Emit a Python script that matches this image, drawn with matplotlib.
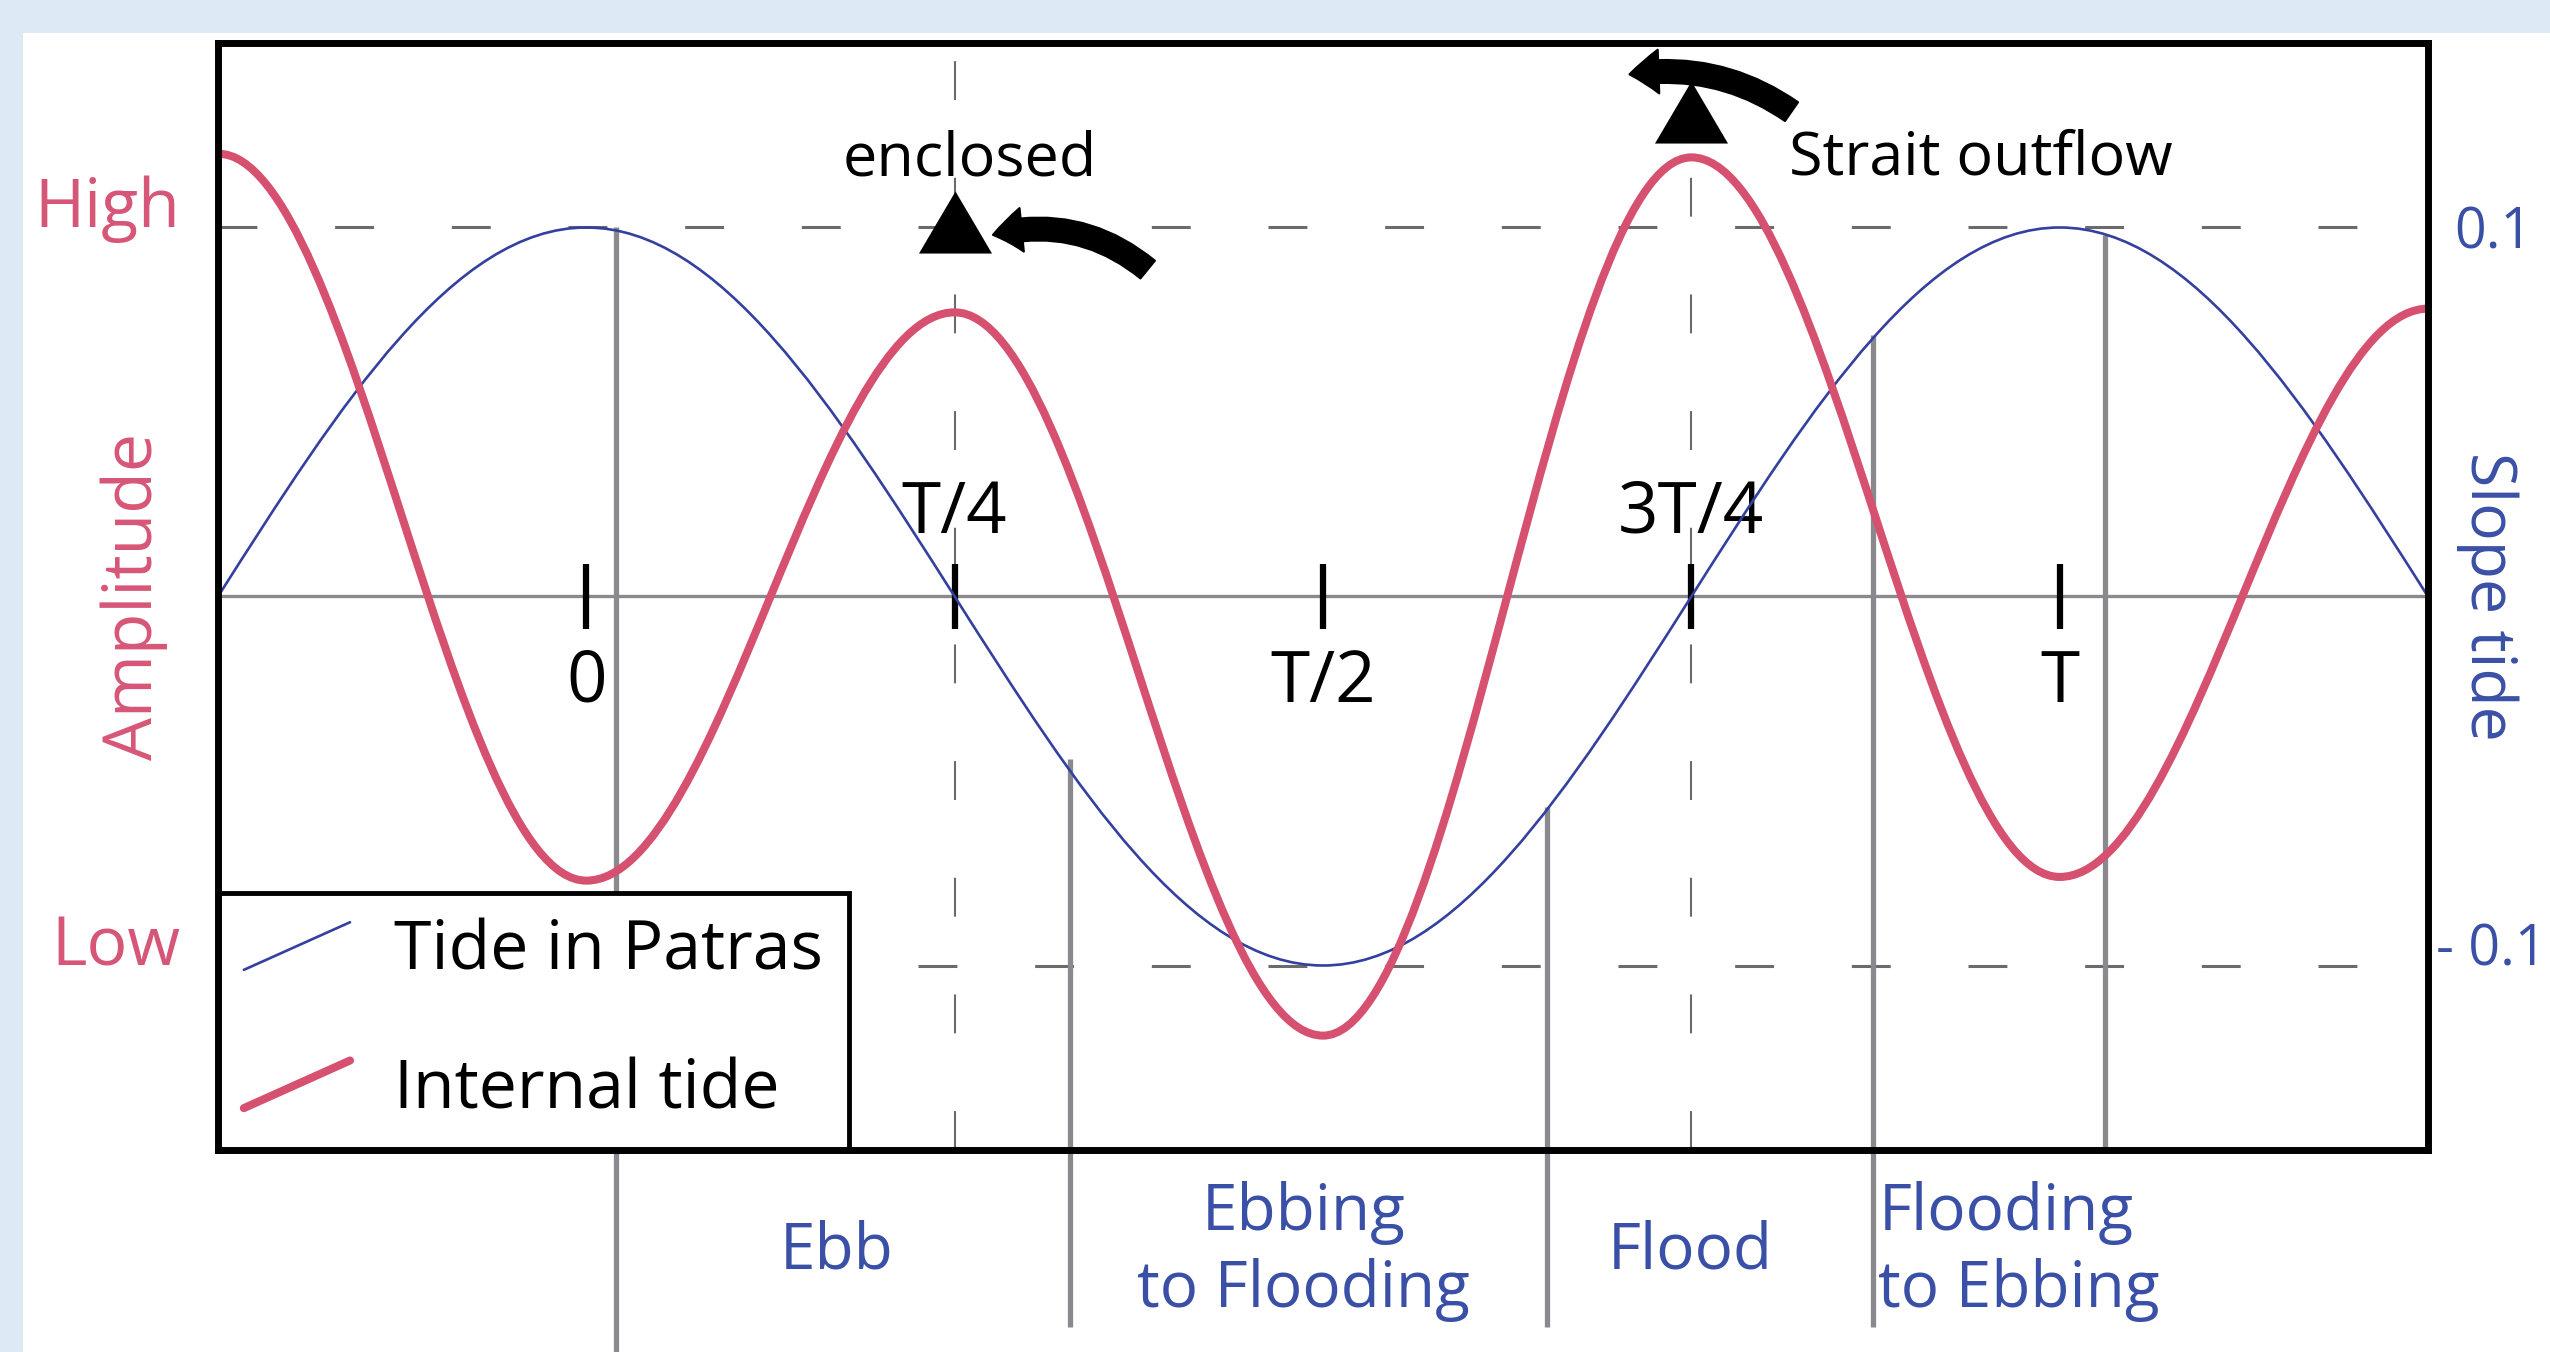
import matplotlib
matplotlib.use('Agg')
import matplotlib.pyplot as plt
import matplotlib.transforms as mtransforms
from matplotlib.path import Path
from matplotlib.patches import PathPatch, FancyArrowPatch, Rectangle, ArrowStyle
from matplotlib.lines import Line2D
from matplotlib.legend_handler import HandlerLine2D

plt.rcParams['font.family'] = ['Open Sans', 'DejaVu Sans']
plt.rcParams['lines.scale_dashes'] = False

# time in tidal periods T
# tide in Patras: slope tide units, zero crossings and extrema
tide_t = [-0.25, 0.0, 0.25, 0.5, 0.75, 1.0, 1.25]
tide_slope = [0.0, 0.1, 0.0, -0.1, 0.0, 0.1, 0.0]
# internal tide: amplitude units (High = 1, Low = -1), peaks and troughs
internal_t = [-0.25, 0.0, 0.25, 0.5, 0.75, 1.0, 1.25]
internal_amp = [1.20, -0.77, 0.77, -1.19, 1.19, -0.76, 0.78]

tick_t = [0.0, 0.25, 0.5, 0.75, 1.0]
tick_labels = ['0', 'T/4', 'T/2', '3T/4', 'T']
tick_above = [False, True, False, True, False]

slope_levels = [-0.1, 0.1]
slope_labels = ['- 0.1', '0.1']
quarter_t = [0.25, 0.75]

# phase boundaries (start on the tide curve)
phase_t = [0.02, 0.328, 0.652, 0.873, 1.031]
phase_top = [0.1, -0.044, -0.057, 0.071, 0.098]
phase_names = ['Ebb', 'Ebbing\nto Flooding', 'Flood', 'Flooding\nto Ebbing']
phase_label_t = [0.170, 0.487, 0.749, 0.877]

event_t = [0.25, 0.75]
event_y = [0.1016, 0.1312]
event_names = ['enclosed', 'Strait outflow']

red = '#d6506f'
pink = '#d65677'
blue_line = '#3340a0'
blue_text = '#3a50a6'
gray = '#8a8a8e'
dash_gray = '#6b6b6b'
bg = '#dde9f5'


def wave_path(ts, ys):
    # cubic pieces: half waves between extrema, quarter waves next to zero crossings
    verts = [(ts[0], ys[0])]
    for t0, y0, t1, y1 in zip(ts[:-1], ys[:-1], ts[1:], ys[1:]):
        dt = t1 - t0
        if y0 == 0:
            c1 = (t0 + 0.3343 * dt, y0 + 0.5251 * (y1 - y0))
            c2 = (t0 + 0.6401 * dt, y1)
        elif y1 == 0:
            c1 = (t1 - 0.6401 * dt, y0)
            c2 = (t1 - 0.3343 * dt, y1 + 0.5251 * (y0 - y1))
        else:
            c1 = (t0 + 0.3634 * dt, y0)
            c2 = (t1 - 0.3634 * dt, y1)
        verts += [c1, c2, (t1, y1)]
    codes = [Path.MOVETO] + [Path.CURVE4] * (len(verts) - 1)
    return Path(verts, codes)


class DiagonalLine(HandlerLine2D):
    def create_artists(self, legend, orig_handle, xdescent, ydescent,
                       width, height, fontsize, trans):
        line = Line2D([-xdescent, -xdescent + width], [-ydescent, -ydescent + height])
        self.update_prop(line, orig_handle, legend)
        line.set_transform(trans)
        return [line]


fig = plt.figure(figsize=(25.5, 13.52), dpi=100, facecolor=bg)
fig.add_artist(Rectangle((23 / 2550, 0), 1, 1 - 33 / 1352, transform=fig.transFigure,
                         facecolor='white', edgecolor='none', zorder=-10))

ax = fig.add_axes([218 / 2550, 202 / 1352, 2210 / 2550, 1107 / 1352])
ax2 = ax.twinx()
ax.set_zorder(ax2.get_zorder() + 1)
ax.patch.set_visible(False)

# slope tide axis: guides, phases, tide curve
ax2.axhline(0, color=gray, lw=2.4, zorder=1)
for lev in slope_levels:
    ax2.axhline(lev, color=dash_gray, lw=2.2, ls=(0, (28, 56)), zorder=1)
for t in quarter_t:
    ax2.axvline(t, color=dash_gray, lw=1.5, ls=(0, (28, 56)), zorder=1)

phase_bottom = [-0.21, -0.198, -0.198, -0.198, -0.15]
ax2.vlines(phase_t, phase_bottom, phase_top, color=gray, lw=3.8, clip_on=False, zorder=1.5)

ax2.vlines(tick_t, -0.0087, 0.0087, color='black', lw=4.5, zorder=3)
for t, lab, up in zip(tick_t, tick_labels, tick_above):
    ax2.text(t, 0.0173 if up else -0.0285, lab, ha='center', va='baseline',
             fontsize=51, color='black')

ax2.add_patch(PathPatch(wave_path(tide_t, tide_slope), fill=False,
                        edgecolor=blue_line, lw=1.9, zorder=3))

tri = [(0, 0.85), (-1, -0.85), (1, -0.85)]
ax2.plot(event_t, event_y, ls='none', marker=tri, ms=52.6, color='black', mew=0, zorder=4)
ax2.text(0.26, 0.114, event_names[0], ha='center', va='baseline', fontsize=44)
ax2.text(0.816, 0.1144, event_names[1], ha='left', va='baseline', fontsize=44)

arrow_style = ArrowStyle.Simple(head_length=0.7, head_width=1.05, tail_width=0.55)
ax2.add_patch(FancyArrowPatch((0.381, 0.0886), (0.276, 0.098), arrowstyle=arrow_style,
                              mutation_scale=30, connectionstyle='arc3,rad=0.25',
                              shrinkA=0, shrinkB=0, color='black', lw=1.5,
                              joinstyle='round', zorder=4))
ax2.add_patch(FancyArrowPatch((0.818, 0.1314), (0.708, 0.1415), arrowstyle=arrow_style,
                              mutation_scale=30, connectionstyle='arc3,rad=0.2',
                              shrinkA=0, shrinkB=0, color='black', lw=1.5,
                              joinstyle='round', zorder=4))

below = mtransforms.blended_transform_factory(ax2.transData, ax2.transAxes)
for t, name in zip(phase_label_t, phase_names):
    left = name.startswith('Flooding')
    ax2.text(t, -0.092, name, transform=below, ha='left' if left else 'center',
             va='center', multialignment='left' if left else 'center',
             fontsize=46, color=blue_text, linespacing=1.27, clip_on=False)

# amplitude axis: internal tide
ax.add_patch(PathPatch(wave_path(internal_t, internal_amp), fill=False,
                       edgecolor=red, lw=5.8, zorder=2))

ax.set_xlim(-0.25, 1.25)
ax.set_ylim(-1.5, 1.5)
ax2.set_ylim(-0.15, 0.15)
ax.set_xticks([])

ax.set_yticks([-1, 1], ['Low', 'High'])
ax.tick_params(axis='y', length=0, pad=27, labelsize=49, labelcolor=pink)
for lbl in ax.get_yticklabels():
    lbl.set_va('baseline')
ax2.set_yticks(slope_levels, slope_labels)
ax2.tick_params(axis='y', length=0, pad=5.5, labelsize=40, labelcolor=blue_text)
low_lbl, high_lbl = ax2.get_yticklabels()
low_lbl.set_va('baseline')
high_lbl.set_transform(high_lbl.get_transform()
                       + mtransforms.ScaledTranslation(0.19, 0, fig.dpi_scale_trans))

ax.set_ylabel('Amplitude', color=pink, fontsize=49, va='center', ha='center',
              rotation_mode='anchor')
ax.yaxis.set_label_coords(-0.038, 0.5)
ax2.set_ylabel('Slope tide', color=blue_text, fontsize=45, rotation=270,
               va='center', ha='center', rotation_mode='anchor')
ax2.yaxis.set_label_coords(1.0267, 0.5)

for sp in ax.spines.values():
    sp.set_linewidth(5)
    sp.set_color('black')
for sp in ax2.spines.values():
    sp.set_visible(False)

handles = [Line2D([], [], color=blue_line, lw=1.9, solid_capstyle='round'),
           Line2D([], [], color=red, lw=5.8, solid_capstyle='round')]
leg = ax.legend(handles, ['Tide in Patras', 'Internal tide'], loc='lower left',
                bbox_to_anchor=(0, 0), borderaxespad=0, fontsize=49,
                handlelength=1.56, handleheight=0.7, handletextpad=0.65,
                labelspacing=1.04, borderpad=0.38, fancybox=False, framealpha=1,
                edgecolor='black', handler_map={Line2D: DiagonalLine()})
leg.get_frame().set_linewidth(3.5)
leg.set_zorder(2.4)

fig.savefig('out.png', dpi=100)
